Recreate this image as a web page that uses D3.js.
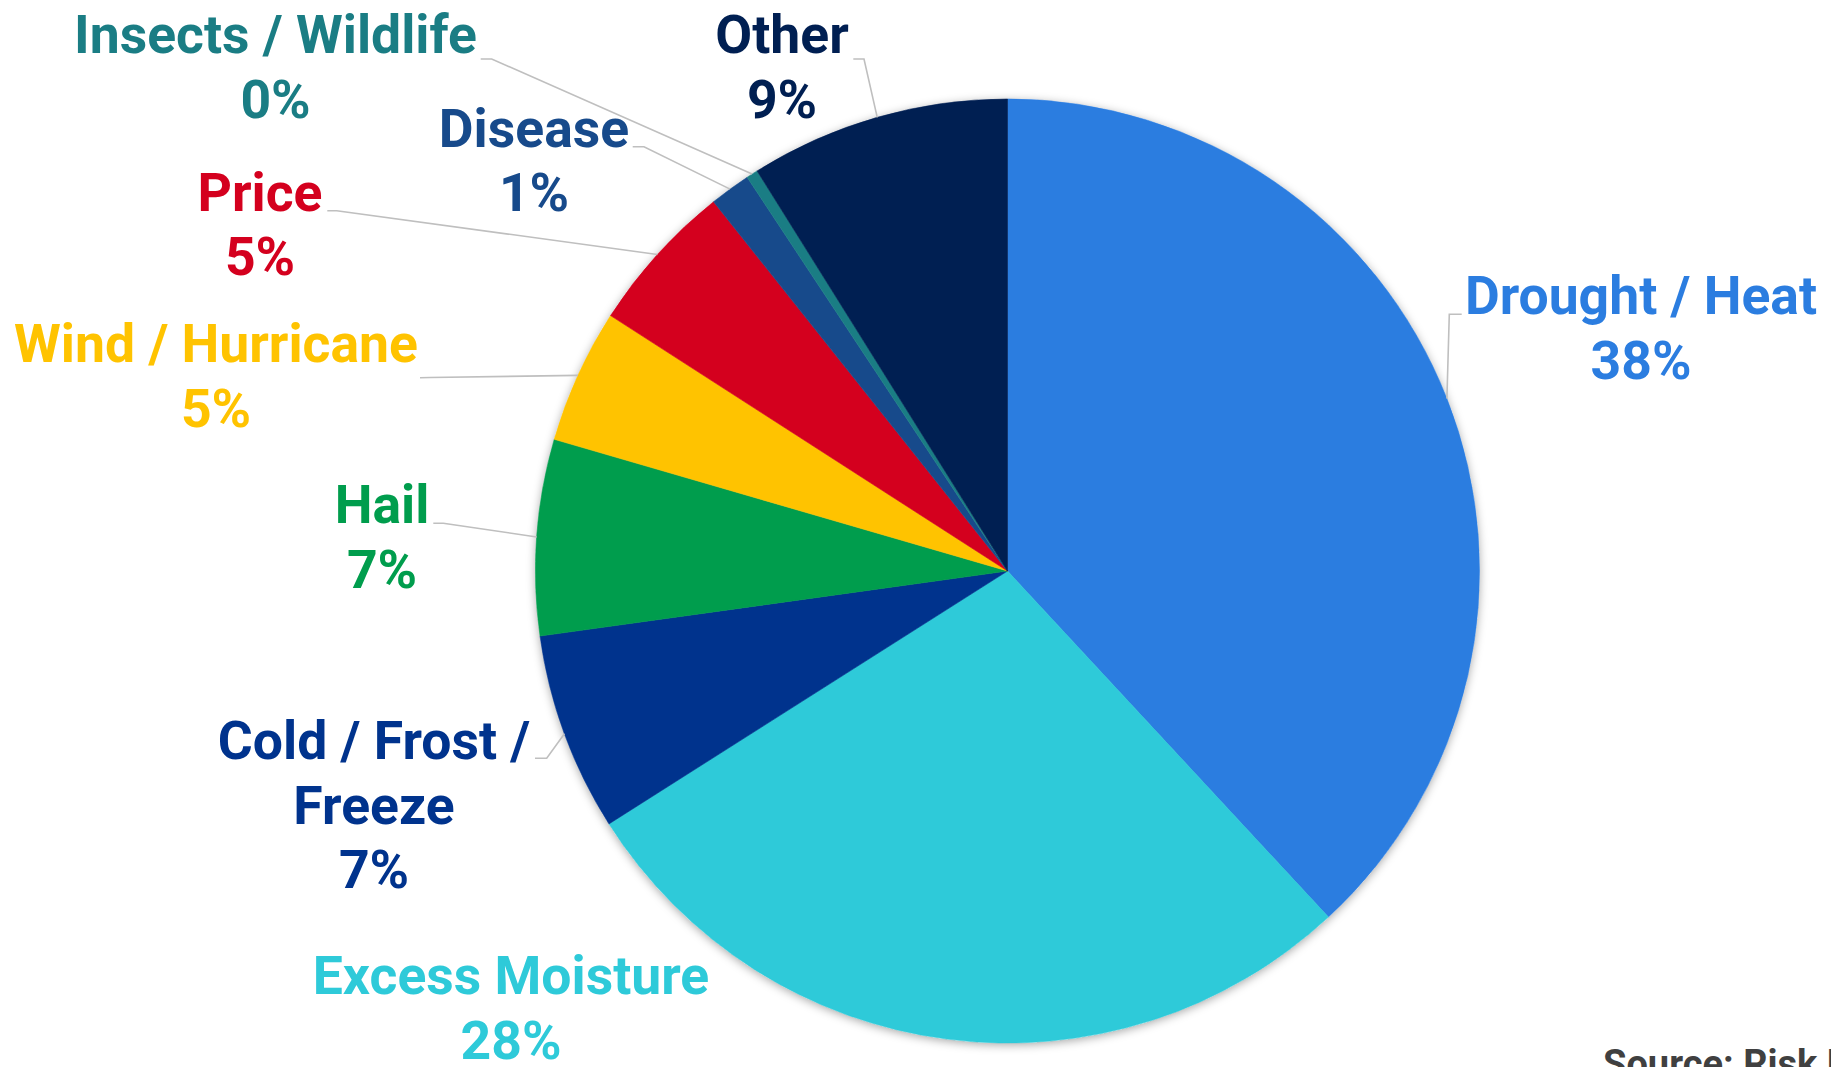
<!DOCTYPE html>
<html>
<head>
<meta charset="utf-8">
<script src="https://cdn.jsdelivr.net/npm/d3@7"></script>
<style>
  html, body { margin: 0; padding: 0; background: #ffffff; overflow: hidden; }
  svg { display: block; }
  text { font-family: Roboto, "Noto Sans", sans-serif; font-weight: 700; }
</style>
</head>
<body>
<svg id="chart" width="1831" height="1067"></svg>
<script>
// ---- data ----
const categories = ["Drought / Heat", "Excess Moisture", "Cold / Frost / Freeze", "Hail", "Wind / Hurricane", "Price", "Disease", "Insects / Wildlife", "Other"];
const values = [38.1, 27.9, 6.8, 6.7, 4.6, 5.2, 1.4, 0.4, 8.9];
const pctLabels = ["38%", "28%", "7%", "7%", "5%", "5%", "1%", "0%", "9%"];
const nameLines = [["Drought / Heat"], ["Excess Moisture"], ["Cold / Frost /", "Freeze"], ["Hail"], ["Wind / Hurricane"], ["Price"], ["Disease"], ["Insects / Wildlife"], ["Other"]];
const colors = ["#2B7DE0", "#2ECAD9", "#00338D", "#009D4D", "#FFC300", "#D4001E", "#174A8B", "#1A7D84", "#001F52"];
const sourceText = "Source: Risk Management Agency";

// ---- layout ----
const W = 1831, H = 1067;
const cx = 1007.5, cy = 571, R = 472;
const lineH = 64.5;
// label centre x, first baseline y, leader start (text side) and elbow point
const labelLayout = [
  { x: 1641, y: 314, leader: [[1461.7, 314.3], [1449.3, 314.3]] },
  { x: 511,  y: 994, leader: null },
  { x: 374,  y: 759, leader: [[535, 758.3], [546.7, 758.3]] },
  { x: 382,  y: 523, leader: [[433.3, 523.3], [443.3, 523.3]] },
  { x: 216,  y: 362, leader: [[420, 377.7], [430, 377.5]] },
  { x: 260,  y: 210.5, leader: [[327.3, 210.7], [336.7, 210.7]] },
  { x: 534,  y: 146.5, leader: [[632.7, 146.7], [644, 146.7]] },
  { x: 275.5, y: 53, leader: [[480.7, 59], [491.7, 59]] },
  { x: 782,  y: 53, leader: [[853.3, 59], [864, 59]] }
];

const svg = d3.select("#chart");

const defs = svg.append("defs");
const filt = defs.append("filter").attr("id", "shadow")
  .attr("x", "-10%").attr("y", "-10%").attr("width", "120%").attr("height", "120%");
filt.append("feDropShadow").attr("dx", 0).attr("dy", 2)
  .attr("stdDeviation", 5).attr("flood-color", "#000").attr("flood-opacity", 0.35);

const pie = d3.pie().sort(null).value(d => d)
  .startAngle(0).endAngle(2 * Math.PI);
const arcs = pie(values);
const arc = d3.arc().innerRadius(0).outerRadius(R);
const edge = d3.arc().innerRadius(R).outerRadius(R);

const g = svg.append("g").attr("transform", `translate(${cx},${cy})`);

// shadow base
g.append("circle").attr("r", R).attr("fill", "#fff").attr("filter", "url(#shadow)");

g.selectAll("path.slice").data(arcs).join("path")
  .attr("class", "slice")
  .attr("d", arc)
  .attr("fill", (d, i) => colors[i])
  .attr("stroke", (d, i) => colors[i])
  .attr("stroke-width", 0.6);

// leader lines
const lineGen = d3.line();
arcs.forEach((d, i) => {
  const L = labelLayout[i];
  if (!L.leader) return;
  const c = edge.centroid(d);
  const pts = L.leader.concat([[cx + c[0], cy + c[1]]]);
  svg.append("path")
    .attr("d", lineGen(pts))
    .attr("fill", "none")
    .attr("stroke", "#BFBFBF")
    .attr("stroke-width", 1.6);
});

// labels
arcs.forEach((d, i) => {
  const L = labelLayout[i];
  const lines = nameLines[i].concat([pctLabels[i]]);
  const t = svg.append("text")
    .attr("x", L.x).attr("y", L.y)
    .attr("text-anchor", "middle")
    .attr("font-size", 53.5)
    .attr("fill", colors[i]);
  lines.forEach((s, k) => {
    t.append("tspan").attr("x", L.x).attr("y", L.y + k * lineH).text(s);
  });
});

// source
svg.append("text")
  .attr("x", 1603).attr("y", 1077)
  .attr("font-size", 38)
  .attr("fill", "#404040")
  .text(sourceText);
</script>
</body>
</html>
